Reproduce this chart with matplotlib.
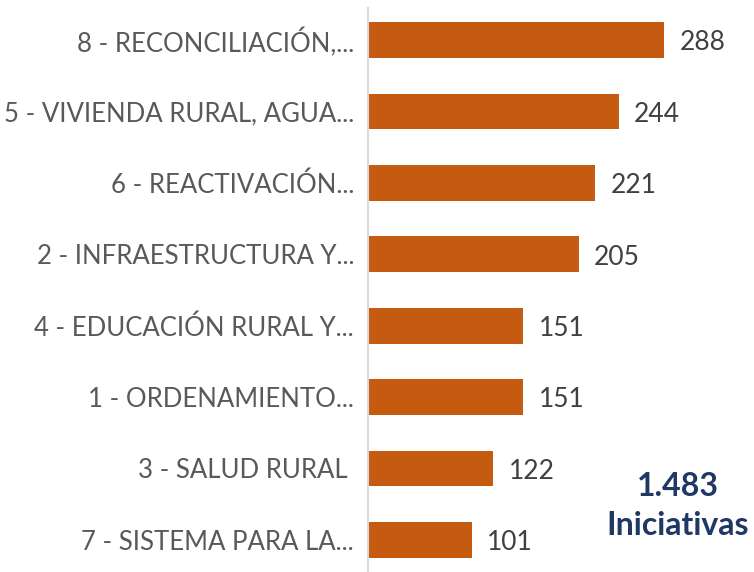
import matplotlib
matplotlib.use("Agg")
import matplotlib.pyplot as plt

categories = [
    "8 - RECONCILIACIÓN,...",
    "5 - VIVIENDA RURAL, AGUA...",
    "6 - REACTIVACIÓN...",
    "2 - INFRAESTRUCTURA Y...",
    "4 - EDUCACIÓN RURAL Y...",
    "1 - ORDENAMIENTO...",
    "3 - SALUD RURAL ",
    "7 - SISTEMA PARA LA...",
]
values = [288, 244, 221, 205, 151, 151, 122, 101]
total_label = "1.483\nIniciativas"

plt.rcParams["font.family"] = ["Lato", "DejaVu Sans"]

fig = plt.figure(figsize=(7.54, 5.72), dpi=100)
ax = fig.add_axes([368 / 754, 0.0, 386 / 754, 1 - 8 / 572])

pos = list(range(len(values)))
ax.barh(pos, values, height=0.5, color="#C55A11")
for p, v in zip(pos, values):
    ax.text(v + 15, p + 0.04, str(v), va="center", ha="left",
            fontsize=19, color="#404040")

ax.set_ylim(len(values) - 0.55, -0.45)
ax.set_xlim(0, 375.5)
ax.set_yticks(pos)
ax.set_yticklabels(categories, fontsize=18.5, color="#595959")
ax.tick_params(axis="y", length=0, pad=10)
ax.set_xticks([])
for side in ["top", "right", "bottom"]:
    ax.spines[side].set_visible(False)
ax.spines["left"].set_color("#D9D9D9")
ax.spines["left"].set_linewidth(1.5)

fig.text(678 / 754, 1 - 506 / 572, total_label, ha="center", va="center",
         fontsize=23, fontweight="bold", color="#1F3864", linespacing=1.4)

fig.savefig("out.png", dpi=100)
